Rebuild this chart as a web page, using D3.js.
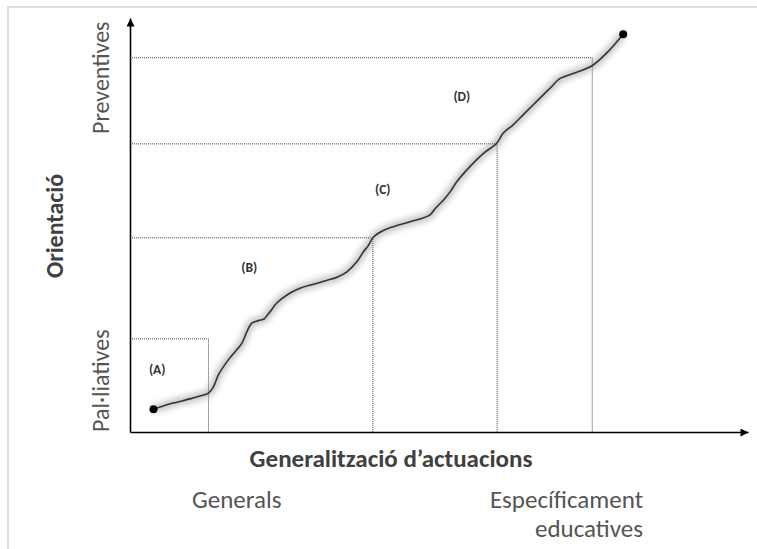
<!DOCTYPE html>
<html>
<head>
<meta charset="utf-8">
<script src="https://cdn.jsdelivr.net/npm/d3@7"></script>
<style>
  html, body { margin: 0; padding: 0; background: #fff; }
  svg { display: block; }
  text { font-family: Carlito, Lato, "Open Sans", sans-serif; }
</style>
</head>
<body>
<svg id="chart" width="757" height="549"></svg>
<script>
// ---- Data (abstract units 0..100 on both axes) ----
const curveX = [3.8, 6.5, 9.7, 11.3, 12.7, 13.5, 14.3, 15.7, 17.0, 18.1, 18.9, 19.7, 20.8, 21.7, 22.1, 22.7, 23.7, 25.4, 27.5, 29.7, 31.8, 33.5, 35.1, 36.7, 37.8, 38.5, 39.4, 40.9, 42.6, 45.3, 48.5, 49.4, 50.7, 51.8, 52.9, 55.0, 57.2, 59.3, 60.4, 62.0, 63.6, 66.3, 68.0, 69.6, 71.7, 74.7, 77.1, 79.8];
const curveY = [5.5, 6.8, 8.0, 8.7, 9.4, 10.9, 13.8, 17.0, 19.4, 21.4, 24.2, 26.3, 26.9, 27.3, 28.0, 29.1, 31.1, 33.1, 34.7, 35.7, 36.6, 37.4, 38.7, 41.1, 43.6, 44.9, 47.1, 48.6, 49.6, 50.8, 52.4, 54.0, 56.0, 58.0, 60.5, 64.1, 67.3, 69.7, 72.2, 74.2, 76.6, 80.6, 83.1, 85.4, 86.6, 88.4, 91.5, 96.1];
const zoneNames = ["(A)", "(B)", "(C)", "(D)"];
const zoneRightX = [12.7, 39.3, 59.4, 74.8];
const zoneTopY = [22.5, 46.9, 69.6, 90.4];
const zoneLabelX = [4.4, 19.3, 40.9, 53.7];
const zoneLabelY = [15.2, 39.9, 58.7, 81.2];
const yAxisTitle = "Orientació";
const xAxisTitle = "Generalització d\u2019actuacions";
const yLow = "Pal\u00B7liatives", yHigh = "Preventives";
const xLow = "Generals", xHigh = ["Específicament", "educatives"];

// ---- Chart ----
const svg = d3.select("#chart");
const x = d3.scaleLinear().domain([0, 100]).range([130, 748]);
const y = d3.scaleLinear().domain([0, 100]).range([432, 18]);

// frame
svg.append("rect").attr("x", 8).attr("y", 7).attr("width", 800).attr("height", 600)
  .attr("fill", "none").attr("stroke", "#dcdcdc").attr("stroke-width", 2);

const defs = svg.append("defs");
defs.append("marker").attr("id", "arrow").attr("viewBox", "0 0 10 10")
  .attr("refX", 10).attr("refY", 5).attr("markerWidth", 9).attr("markerHeight", 8)
  .attr("markerUnits", "userSpaceOnUse").attr("orient", "auto")
  .append("path").attr("d", "M0,0L10,5L0,10z").attr("fill", "#000");
defs.append("filter").attr("id", "glow").attr("x", "-20%").attr("y", "-20%").attr("width", "140%").attr("height", "140%")
  .append("feGaussianBlur").attr("stdDeviation", 3);

// zone dotted boxes
const zones = zoneNames.map((n, i) => ({ n, rx: zoneRightX[i], ty: zoneTopY[i], lx: zoneLabelX[i], ly: zoneLabelY[i] }));
const zg = svg.append("g");
zg.selectAll("path.zone").data(zones).join("path").attr("class", "zone")
  .attr("d", d => `M${x(0)},${y(d.ty)}H${x(d.rx)}V${y(0)}`)
  .attr("fill", "none").attr("stroke", "#444").attr("stroke-width", 1)
  .attr("stroke-dasharray", "1,1");

// curve
const pts = curveX.map((v, i) => [v, curveY[i]]);
const line = d3.line().x(d => x(d[0])).y(d => y(d[1])).curve(d3.curveCatmullRom);
svg.append("path").attr("d", line(pts)).attr("fill", "none")
  .attr("stroke", "#888").attr("stroke-width", 7).attr("opacity", 0.55)
  .attr("filter", "url(#glow)");
svg.append("path").attr("d", line(pts)).attr("fill", "none")
  .attr("stroke", "#333").attr("stroke-width", 1.6).attr("stroke-linejoin", "round");
svg.selectAll("circle.end").data([pts[0], pts[pts.length - 1]]).join("circle")
  .attr("class", "end").attr("cx", d => x(d[0])).attr("cy", d => y(d[1]))
  .attr("r", 4).attr("fill", "#000");

// zone labels
zg.selectAll("text.zl").data(zones).join("text").attr("class", "zl")
  .attr("x", d => x(d.lx)).attr("y", d => y(d.ly)).attr("dy", "0.35em")
  .attr("text-anchor", "middle").attr("font-size", 13.5).attr("font-weight", 700)
  .attr("fill", "#333").text(d => d.n);

// axes
const xAxis = svg.append("g").attr("transform", `translate(0,${y(0)})`)
  .call(d3.axisBottom(x).tickValues([]).tickSizeOuter(0));
const yAxis = svg.append("g").attr("transform", `translate(${x(0)},0)`)
  .call(d3.axisLeft(y).tickValues([]).tickSizeOuter(0));
[xAxis, yAxis].forEach(a => a.select(".domain").attr("stroke", "#000")
  .attr("stroke-width", 1.6).attr("marker-end", "url(#arrow)"));

// axis titles
svg.append("text").attr("transform", "translate(63,226) rotate(-90)")
  .attr("text-anchor", "middle").attr("font-size", 24).attr("font-weight", 700)
  .attr("fill", "#404040").text(yAxisTitle);
svg.append("text").attr("x", 391).attr("y", 467)
  .attr("text-anchor", "middle").attr("font-size", 25).attr("font-weight", 700)
  .attr("fill", "#404040").text(xAxisTitle);

// extreme labels
svg.append("text").attr("transform", "translate(109,134) rotate(-90)")
  .attr("font-size", 24).attr("fill", "#555").text(yHigh);
svg.append("text").attr("transform", "translate(109,432) rotate(-90)")
  .attr("font-size", 24).attr("fill", "#555").text(yLow);
svg.append("text").attr("x", 192).attr("y", 508)
  .attr("font-size", 25).attr("fill", "#555").text(xLow);
svg.selectAll("text.xh").data(xHigh).join("text").attr("class", "xh")
  .attr("x", 643).attr("y", (d, i) => 508 + i * 29).attr("text-anchor", "end")
  .attr("font-size", 25).attr("fill", "#555").text(d => d);
</script>
</body>
</html>
